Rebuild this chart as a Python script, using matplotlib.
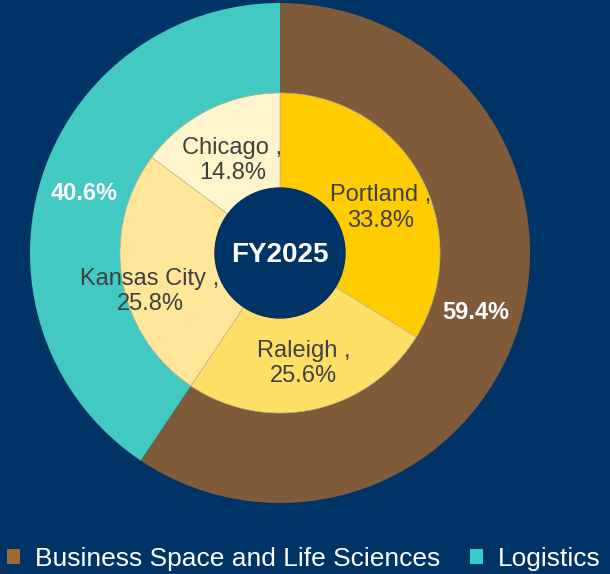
import numpy as np
import matplotlib
matplotlib.use('Agg')
import matplotlib.pyplot as plt
from matplotlib.patches import Patch, Circle

plt.rcParams['font.family'] = ['Liberation Sans', 'DejaVu Sans']

# data
segments = ['Business Space and Life Sciences', 'Logistics']
segment_share = [59.4, 40.6]
markets = ['Portland', 'Raleigh', 'Kansas City', 'Chicago']
market_share = [33.8, 25.6, 25.8, 14.8]
center_label = 'FY2025'

BG = '#003366'
seg_colors = ['#7f5b3a', '#42c9c1']
legend_colors = ['#9c6a35', '#33cccc']
mkt_colors = ['#ffcc00', '#ffe066', '#ffe699', '#fff5cc']

W, H = 610, 574
fig = plt.figure(figsize=(W / 100, H / 100), dpi=100, facecolor=BG)
ax = fig.add_axes([0, 0, 1, 1])
ax.set_facecolor(BG)

cx, cy = 280, H - 253
R_out, R_mid, R_hole = 250, 160, 65

ax.pie(segment_share, colors=seg_colors, startangle=90, counterclock=False,
       radius=R_out, center=(cx, cy), wedgeprops=dict(width=R_out - R_mid, linewidth=0),
       frame=True)
ax.pie(market_share, colors=mkt_colors, startangle=90, counterclock=False,
       radius=R_mid, center=(cx, cy),
       wedgeprops=dict(width=R_mid - R_hole, linewidth=0.5, edgecolor='#c9b98a'),
       frame=True)
ax.set_xlim(0, W)
ax.set_ylim(0, H)
ax.set_aspect('equal')
ax.axis('off')

# hole sits over the labels (clips the Kansas City comma like the original)
ax.add_patch(Circle((cx, cy), R_hole, color=BG, zorder=5))
ax.text(cx, cy - 2, center_label, color='white', fontsize=20, fontweight='bold',
        ha='center', va='center', zorder=6)


def mid_angles(vals):
    cum = np.cumsum([0] + list(vals))
    mids = (cum[:-1] + cum[1:]) / 2 / sum(vals) * 360
    return np.deg2rad(90 - mids)


# outer percent labels
for a, v in zip(mid_angles(segment_share), segment_share):
    r = 205
    ax.text(cx + r * np.cos(a), cy + r * np.sin(a), f'{v:.1f}%', color='white',
            fontsize=17, fontweight='bold', ha='center', va='center')

# inner labels: radius and angle nudge per label
lab_r = [111, 111, 135, 106]
lab_da = [-4, 0, 6, 0]
for a, name, v, r, da in zip(mid_angles(market_share), markets, market_share, lab_r, lab_da):
    a = a + np.deg2rad(da)
    ax.text(cx + r * np.cos(a), cy + r * np.sin(a) - 2, f'{name} ,\n{v:.1f}%',
            color='#404040', fontsize=17, ha='center', va='center',
            linespacing=1.2, zorder=4)

handles = [Patch(facecolor=c, edgecolor='none') for c in legend_colors]
ax.legend(handles, segments, loc='lower center', bbox_to_anchor=(0.498, -0.036),
          ncol=2, frameon=False, fontsize=19, labelcolor='white',
          handlelength=0.5, handleheight=0.5, handletextpad=0.55,
          columnspacing=1.15)

fig.savefig('out.png', dpi=100, facecolor=BG)
